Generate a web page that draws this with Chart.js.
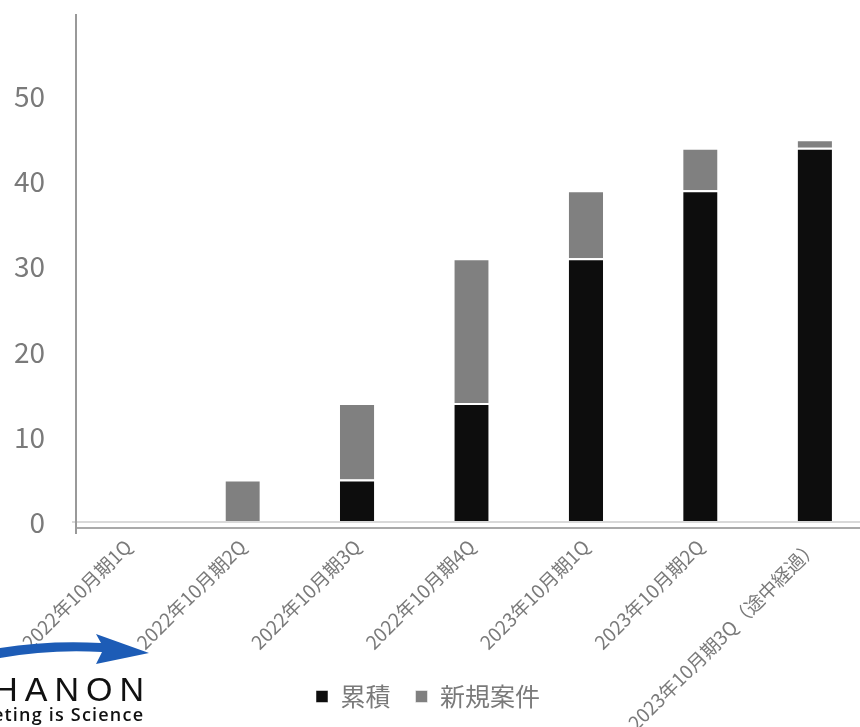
<!DOCTYPE html>
<html>
<head>
<meta charset="utf-8">
<script src="https://cdn.jsdelivr.net/npm/chart.js@4/dist/chart.umd.min.js"></script>
<style>
  html, body { margin: 0; padding: 0; background: #fff; overflow: hidden; }
  #wrap { width: 872px; height: 727px; }
</style>
</head>
<body>
<div id="wrap"><canvas id="c" width="872" height="727"></canvas></div>
<script>
// Quarterly figures
const categories = [
  '2022年10月期1Q', '2022年10月期2Q', '2022年10月期3Q', '2022年10月期4Q',
  '2023年10月期1Q', '2023年10月期2Q', '2023年10月期3Q（途中経過）'
];
const cumulative = [0, 0, 5, 14, 31, 39, 44];
const newCases   = [0, 5, 9, 17, 8, 5, 1];
const seriesNames = ['累積', '新規案件'];
const yTicks = [0, 10, 20, 30, 40, 50];

const JP = "'Noto Sans CJK JP', 'Noto Sans', sans-serif";
const TEXT_GRAY = '#7a7a7a';

// Let the rotated category labels run past the bottom of the x scale box,
// and nudge the legend a little to the left
const layoutTweaks = {
  id: 'layoutTweaks',
  afterLayout(chart) {
    chart.scales.x.bottom = chart.height;
    chart.legend.left -= 8;
    chart.legend.right -= 8;
  }
};

// Axis lines and the corporate mark in the lower-left corner
const decorations = {
  id: 'decorations',
  afterDraw(chart) {
    const ctx = chart.ctx;
    const y = chart.scales.y;
    const area = chart.chartArea;
    const zeroY = y.getPixelForValue(0);
    ctx.save();
    // zero baseline
    ctx.strokeStyle = '#d9d9d9';
    ctx.lineWidth = 2;
    ctx.beginPath();
    ctx.moveTo(area.left + 1, zeroY);
    ctx.lineTo(chart.width, zeroY);
    ctx.stroke();
    // horizontal axis
    ctx.strokeStyle = '#8c8c8c';
    ctx.lineWidth = 1.5;
    ctx.beginPath();
    ctx.moveTo(area.left + 5, area.bottom);
    ctx.lineTo(chart.width, area.bottom);
    ctx.stroke();
    // vertical axis
    ctx.strokeStyle = '#999999';
    ctx.lineWidth = 2;
    ctx.beginPath();
    ctx.moveTo(area.left + 5, area.top);
    ctx.lineTo(area.left + 5, area.bottom + 6);
    ctx.stroke();

    // blue swoosh arrow
    ctx.fillStyle = '#1d5cb6';
    ctx.beginPath();
    ctx.moveTo(0, 648);
    ctx.quadraticCurveTo(50, 640, 101, 643);
    ctx.lineTo(96, 634);
    ctx.lineTo(149, 653);
    ctx.lineTo(96, 664);
    ctx.lineTo(102, 652);
    ctx.quadraticCurveTo(50, 649, 0, 658);
    ctx.closePath();
    ctx.fill();

    // wordmark
    ctx.fillStyle = '#111111';
    ctx.textBaseline = 'alphabetic';
    ctx.textAlign = 'left';
    ctx.font = "34px 'Liberation Sans', sans-serif";
    ctx.letterSpacing = '7px';
    let w = ctx.measureText('HANON').width;
    ctx.fillText('HANON', 144 - (w - 7), 701);
    ctx.font = "600 18px 'Open Sans', 'Liberation Sans', sans-serif";
    ctx.letterSpacing = '1.2px';
    w = ctx.measureText('eting is Science').width;
    ctx.fillText('eting is Science', 143 - (w - 1.2), 721);
    ctx.restore();
  }
};

const barBorder = { top: 2, bottom: 0, left: 0, right: 0 };

new Chart(document.getElementById('c'), {
  type: 'bar',
  data: {
    labels: categories,
    datasets: [
      {
        label: seriesNames[0],
        data: cumulative,
        backgroundColor: '#0d0d0d',
        borderColor: '#ffffff',
        borderWidth: barBorder,
        borderSkipped: false,
        barPercentage: 0.3,
        categoryPercentage: 1.0
      },
      {
        label: seriesNames[1],
        data: newCases,
        backgroundColor: '#808080',
        borderColor: '#ffffff',
        borderWidth: barBorder,
        borderSkipped: false,
        barPercentage: 0.3,
        categoryPercentage: 1.0
      }
    ]
  },
  options: {
    responsive: false,
    animation: false,
    devicePixelRatio: 1,
    layout: { padding: { top: 14, left: 0, right: 0, bottom: 8 } },
    plugins: {
      tooltip: { enabled: false },
      legend: {
        position: 'bottom',
        labels: {
          font: { family: JP, size: 25 },
          color: TEXT_GRAY,
          boxWidth: 12,
          boxHeight: 12,
          padding: 25
        }
      }
    },
    scales: {
      x: {
        stacked: true,
        offset: true,
        grid: { display: false, drawTicks: false },
        border: { display: false },
        ticks: {
          autoSkip: false,
          minRotation: 45,
          maxRotation: 45,
          padding: 7,
          color: TEXT_GRAY,
          font: { family: JP, size: 19 }
        },
        afterFit(scale) {
          scale.height = 131;
          scale.paddingLeft = 0;
          scale.paddingRight = 0;
        }
      },
      y: {
        stacked: true,
        min: -0.707,
        max: 59.72,
        grid: { display: false, drawTicks: false },
        border: { display: false },
        ticks: {
          padding: 26,
          color: TEXT_GRAY,
          font: { family: JP, size: 28 }
        },
        afterBuildTicks(scale) {
          scale.ticks = yTicks.map(v => ({ value: v }));
        },
        afterFit(scale) {
          scale.width = 71;
          scale.paddingTop = 0;
          scale.paddingBottom = 0;
        }
      }
    }
  },
  plugins: [layoutTweaks, decorations]
});
</script>
</body>
</html>
